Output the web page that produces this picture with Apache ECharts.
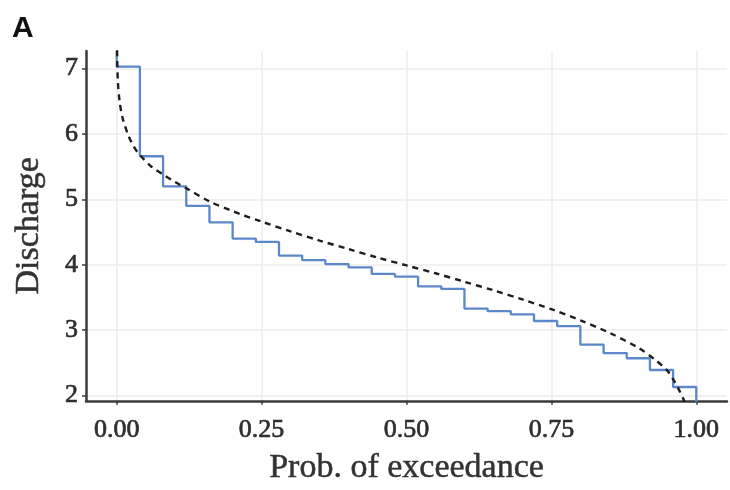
<!DOCTYPE html>
<html>
<head>
<meta charset="utf-8">
<script src="https://cdn.jsdelivr.net/npm/echarts@6/dist/echarts.min.js"></script>
<style>
  html, body { margin: 0; padding: 0; background: #ffffff; }
  #chart { width: 730px; height: 490px; }
</style>
</head>
<body>
<div id="chart"></div>
<script>
// Empirical exceedance curve: probability of exceedance vs. observed discharge
const stepProb = [0, 0, 0.04, 0.08, 0.12, 0.16, 0.20, 0.24, 0.28, 0.32, 0.36, 0.40, 0.44,
                  0.48, 0.52, 0.56, 0.60, 0.64, 0.68, 0.72, 0.76, 0.80, 0.84, 0.88, 0.92, 0.96, 1.00];
const stepDischarge = [7.27, 7.03, 5.66, 5.20, 4.90, 4.65, 4.40, 4.35, 4.14, 4.07, 4.01, 3.96, 3.86,
                       3.82, 3.67, 3.63, 3.33, 3.29, 3.24, 3.14, 3.06, 2.78, 2.65, 2.57, 2.39, 2.13, 1.85];

// Fitted (theoretical) exceedance curve
const fitProb = [0.0003, 0.0008, 0.002, 0.005, 0.01, 0.02, 0.03, 0.04, 0.06, 0.08, 0.10, 0.12,
                 0.16, 0.20, 0.25, 0.30, 0.35, 0.40, 0.45, 0.50, 0.55, 0.60, 0.65, 0.70, 0.75,
                 0.80, 0.85, 0.90, 0.93, 0.95, 0.96, 0.97, 0.98, 0.99];
const fitDischarge = [7.45, 7.20, 6.80, 6.50, 6.25, 5.98, 5.80, 5.68, 5.50, 5.38, 5.27, 5.17,
                      4.97, 4.82, 4.66, 4.51, 4.37, 4.24, 4.11, 3.99, 3.87, 3.74, 3.61, 3.47, 3.32,
                      3.15, 2.96, 2.73, 2.54, 2.38, 2.25, 2.09, 1.90, 1.65];

// Axis ticks
const xTicks = [0, 0.25, 0.5, 0.75, 1];
const yTicks = [2, 3, 4, 5, 6, 7];

const serif = '"Liberation Serif", "DejaVu Serif", serif';
const axisDark = '#3b3b3b';
const gridGrey = '#ececec';
const textDark = '#2e2e2e';

// slightly heavier serif strokes for all axis text
const heavy = { textBorderColor: textDark, textBorderWidth: 0.7 };
const heavyTitle = { textBorderColor: '#333', textBorderWidth: 0.5 };

const chart = echarts.init(document.getElementById('chart'), null, { renderer: 'canvas' });

chart.setOption({
  animation: false,
  backgroundColor: '#ffffff',
  title: {
    text: 'A',
    left: 7,
    top: 9,
    textStyle: { fontFamily: '"Liberation Sans", Arial, sans-serif', fontWeight: 'bold', fontSize: 30, color: '#111' }
  },
  grid: { left: 86, right: 3, top: 51, bottom: 88, containLabel: false },
  xAxis: {
    type: 'value',
    min: -0.053,
    max: 1.053,
    name: 'Prob. of exceedance',
    nameLocation: 'middle',
    nameGap: 50,
    nameTextStyle: Object.assign({ fontFamily: serif, fontSize: 34, color: '#333' }, heavyTitle),
    axisLine: { show: true, onZero: false, lineStyle: { color: axisDark, width: 2.5 } },
    axisTick: { show: true, length: 4, customValues: xTicks, lineStyle: { color: axisDark, width: 1.5 } },
    axisLabel: Object.assign({
      customValues: xTicks,
      margin: 16,
      fontFamily: serif,
      fontSize: 26,
      color: textDark,
      formatter: v => v.toFixed(2)
    }, heavy),
    splitLine: { show: true, lineStyle: { color: gridGrey, width: 1.5 } }
  },
  yAxis: {
    type: 'value',
    min: 1.92,
    max: 7.27,
    name: 'Discharge',
    nameLocation: 'middle',
    nameGap: 40,
    nameTextStyle: Object.assign({ fontFamily: serif, fontSize: 34, color: '#333' }, heavyTitle),
    axisLine: { show: true, onZero: false, lineStyle: { color: axisDark, width: 2.5 } },
    axisTick: { show: true, length: 4, customValues: yTicks, lineStyle: { color: axisDark, width: 1.5 } },
    axisLabel: Object.assign({
      customValues: yTicks,
      margin: 8,
      fontFamily: serif,
      fontSize: 26,
      color: textDark
    }, heavy),
    splitLine: { show: true, lineStyle: { color: gridGrey, width: 1.5 } }
  },
  series: [
    {
      name: 'Observed',
      type: 'line',
      step: 'end',
      symbol: 'none',
      data: stepProb.map((p, i) => [p, stepDischarge[i]]),
      lineStyle: { color: '#5c87c8', width: 2.3 },
      z: 2
    },
    {
      name: 'Fitted',
      type: 'line',
      smooth: 0.3,
      symbol: 'none',
      data: fitProb.map((p, i) => [p, fitDischarge[i]]),
      lineStyle: { color: '#1e1e1e', width: 2.4, type: [6, 5] },
      z: 3
    }
  ]
});
</script>
</body>
</html>
